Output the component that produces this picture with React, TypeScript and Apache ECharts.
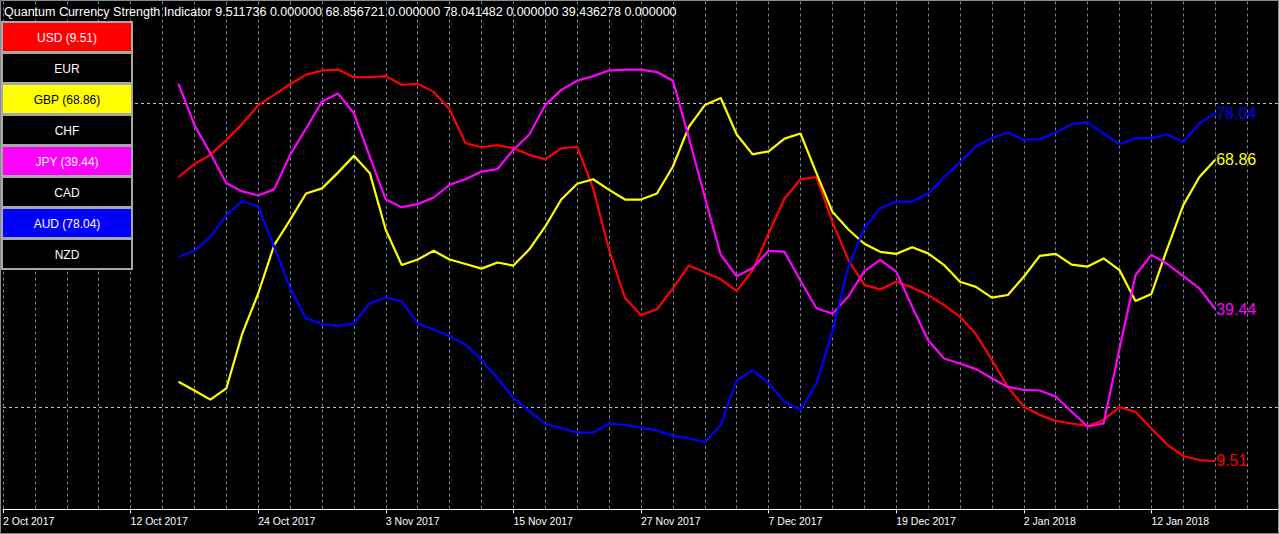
import React, { useEffect, useRef } from "react";
import * as echarts from "echarts";

// Trading days shown on the time axis (bar 0 = 2 Oct 2017)
const octDays = [2, 3, 4, 5, 6, 9, 10, 11, 12, 13, 16, 17, 18, 19, 20, 23, 24, 25, 26, 27, 30, 31];
const novDays = [1, 2, 3, 6, 7, 8, 9, 10, 13, 14, 15, 16, 17, 20, 21, 22, 23, 24, 27, 28, 29, 30];
const decDays = [1, 4, 5, 6, 7, 8, 11, 12, 13, 14, 15, 18, 19, 20, 21, 22, 26, 27, 28, 29];
const janDays = [2, 3, 4, 5, 8, 9, 10, 11, 12, 15, 16, 17, 18, 19, 22, 23, 24];

const categories: string[] = [
  ...octDays.map((d) => `${d} Oct 2017`),
  ...novDays.map((d) => `${d} Nov 2017`),
  ...decDays.map((d) => `${d} Dec 2017`),
  ...janDays.map((d) => `${d} Jan 2018`),
];

// indicator starts at bar 11 (17 Oct 2017)
const leadingEmpty = 11;

const usd = [
  65.4, 68.0, 69.8, 72.7, 75.9, 79.6, 81.6, 83.7, 85.6, 86.4,
  86.6, 85.1, 85.1, 85.3, 83.6, 83.8, 82.2, 78.8, 72.1, 71.3,
  71.7, 71.1, 69.8, 68.9, 71.1, 71.4, 63.2, 51.1, 41.6, 38.2,
  39.4, 43.5, 48.0, 46.7, 45.3, 43.0, 47.1, 54.3, 61.2, 65.0,
  65.4, 56.6, 49.1, 44.2, 43.3, 44.8, 43.7, 42.2, 40.2, 37.9,
  34.5, 29.4, 24.1, 20.2, 18.6, 17.4, 16.9, 16.4, 17.6, 20.1,
  19.2, 15.9, 12.7, 10.5, 9.7, 9.511736,
];

const gbp = [
  25.1, 23.4, 21.6, 23.8, 34.6, 42.5, 52.0, 57.0, 62.2, 63.2,
  66.3, 69.6, 66.2, 55.0, 48.1, 49.2, 50.9, 49.2, 48.3, 47.4,
  48.6, 48.0, 51.2, 55.7, 61.0, 64.1, 65.0, 62.9, 61.0, 61.0,
  62.2, 67.5, 75.3, 79.6, 81.0, 73.8, 69.9, 70.5, 73.0, 74.0,
  66.2, 58.6, 55.1, 52.3, 50.7, 50.3, 51.6, 50.4, 48.1, 44.8,
  43.8, 41.7, 42.2, 45.8, 49.9, 50.3, 48.2, 47.8, 49.4, 47.1,
  41.0, 42.4, 51.4, 59.9, 65.4, 68.856721,
];

const jpy = [
  83.8, 75.7, 70.1, 64.2, 62.6, 61.8, 63.0, 69.8, 75.0, 80.3,
  81.9, 78.0, 69.4, 61.0, 59.5, 60.1, 61.4, 63.9, 65.0, 66.5,
  67.0, 70.8, 73.8, 79.6, 82.6, 84.4, 85.3, 86.4, 86.6, 86.6,
  86.1, 84.4, 73.2, 61.5, 50.1, 45.9, 47.5, 50.9, 50.7, 45.0,
  39.6, 38.5, 41.9, 46.9, 49.1, 46.8, 39.9, 33.3, 29.7, 28.7,
  27.6, 25.8, 24.1, 23.5, 23.4, 22.2, 19.2, 16.3, 16.9, 31.6,
  46.1, 50.1, 48.3, 45.9, 43.5, 39.436278,
];

const aud = [
  49.7, 50.9, 53.7, 57.9, 60.7, 59.6, 51.7, 43.5, 37.6, 36.5,
  36.1, 36.6, 40.6, 41.7, 40.9, 36.6, 35.4, 34.1, 32.4, 29.4,
  25.8, 21.9, 19.4, 16.8, 16.0, 15.1, 15.1, 16.9, 16.6, 16.1,
  15.5, 14.5, 14.0, 13.2, 16.6, 25.4, 27.4, 24.8, 21.2, 19.5,
  24.8, 35.0, 47.8, 55.3, 59.3, 60.6, 60.6, 62.2, 65.4, 68.4,
  71.5, 73.1, 74.2, 72.7, 72.9, 74.2, 75.8, 76.2, 74.0, 71.9,
  73.1, 73.1, 73.8, 72.3, 76.0, 78.041482,
];

const levels = [80, 20];

const currencies = ["USD", "EUR", "GBP", "CHF", "JPY", "CAD", "AUD", "NZD"];
const currencyColors: Record<string, string> = {
  USD: "#ff0000",
  GBP: "#ffff00",
  JPY: "#ff00ff",
  AUD: "#0000ff",
};
const currencyText: Record<string, string> = {
  USD: "#ffffff",
  GBP: "#000000",
  JPY: "#ffffff",
  AUD: "#ffffff",
};
const currencyData: Record<string, number[]> = { USD: usd, GBP: gbp, JPY: jpy, AUD: aud };

const last = (a: number[]) => a[a.length - 1];
const titleText =
  "Quantum Currency Strength Indicator " +
  [last(usd), 0, last(gbp), 0, last(aud), 0, last(jpy), 0].map((v) => v.toFixed(6)).join(" ");

const FONT = '"Liberation Sans", Arial, sans-serif';

export default function App() {
  const ref = useRef<HTMLDivElement>(null);

  useEffect(() => {
    if (!ref.current) return;
    const chart = echarts.init(ref.current, null, { renderer: "svg" });

    const pad = new Array(leadingEmpty).fill(null);
    const seriesOrder = ["USD", "GBP", "JPY", "AUD"];
    const series: any[] = seriesOrder.map((c, i) => ({
      name: c,
      type: "line",
      data: [...pad, ...currencyData[c]],
      showSymbol: false,
      symbol: "none",
      lineStyle: { color: currencyColors[c], width: 2.2 },
      itemStyle: { color: currencyColors[c] },
      z: 3 + i,
      endLabel: {
        show: true,
        distance: 1,
        color: currencyColors[c],
        fontSize: 16,
        fontFamily: FONT,
        formatter: (p: any) => Number(Array.isArray(p.value) ? p.value[1] : p.value).toFixed(2),
      },
      markLine:
        i === 0
          ? {
              silent: true,
              symbol: "none",
              label: { show: false },
              lineStyle: { color: "#c0c0c0", type: [3, 3], width: 1 },
              data: levels.map((l) => ({ yAxis: l })),
              z: 1,
            }
          : undefined,
    }));

    const buttons: any[] = currencies.map((c, i) => {
      const y0 = 22 + 31 * i;
      const val = currencyData[c];
      return {
        type: "group",
        z: 100,
        children: [
          {
            type: "rect",
            shape: { x: 2, y: y0, width: 130, height: 30 },
            style: { fill: currencyColors[c] || "#000000", stroke: "#a8a8a8", lineWidth: 2 },
            z: 100,
          },
          {
            type: "text",
            x: 67,
            y: y0 + 15.5,
            style: {
              text: val ? `${c} (${last(val).toFixed(2)})` : c,
              fill: currencyText[c] || "#ffffff",
              font: `12px ${FONT}`,
              align: "center",
              verticalAlign: "middle",
            },
            z: 101,
          },
        ],
      };
    });

    const labelInterval = (index: number) => index % 8 === 0 && index < 80;

    chart.setOption({
      animation: false,
      backgroundColor: "#000000",
      title: {
        text: titleText,
        left: 4,
        top: 5,
        padding: 0,
        textStyle: { color: "#ffffff", fontSize: 12.5, fontWeight: "normal", fontFamily: FONT },
      },
      grid: { left: 1, top: 1.5, width: 1280, height: 507.8, containLabel: false },
      xAxis: {
        type: "category",
        data: categories,
        boundaryGap: false,
        axisLine: { show: true, lineStyle: { color: "#ffffff", width: 1 } },
        axisTick: { show: true, interval: labelInterval, length: 4, lineStyle: { color: "#ffffff" } },
        axisLabel: {
          show: true,
          interval: labelInterval,
          color: "#ffffff",
          fontSize: 10.5,
          fontFamily: FONT,
          align: "left",
          margin: 6,
        },
        splitLine: {
          show: true,
          interval: 1,
          lineStyle: { color: "#778899", type: [3, 3], width: 1 },
        },
      },
      yAxis: {
        type: "value",
        min: 0,
        max: 100,
        show: false,
        splitLine: { show: false },
      },
      series,
      graphic: [
        ...buttons,
        {
          type: "rect",
          shape: { x: 0.5, y: 0.5, width: 1278, height: 533 },
          style: { fill: "none", stroke: "#8c8c8c", lineWidth: 1 },
          silent: true,
          z: 200,
        },
      ],
    });

    return () => chart.dispose();
  }, []);

  return (
    <div
      ref={ref}
      style={{ position: "absolute", left: 0, top: 0, width: 1279, height: 534, background: "#000" }}
    />
  );
}
